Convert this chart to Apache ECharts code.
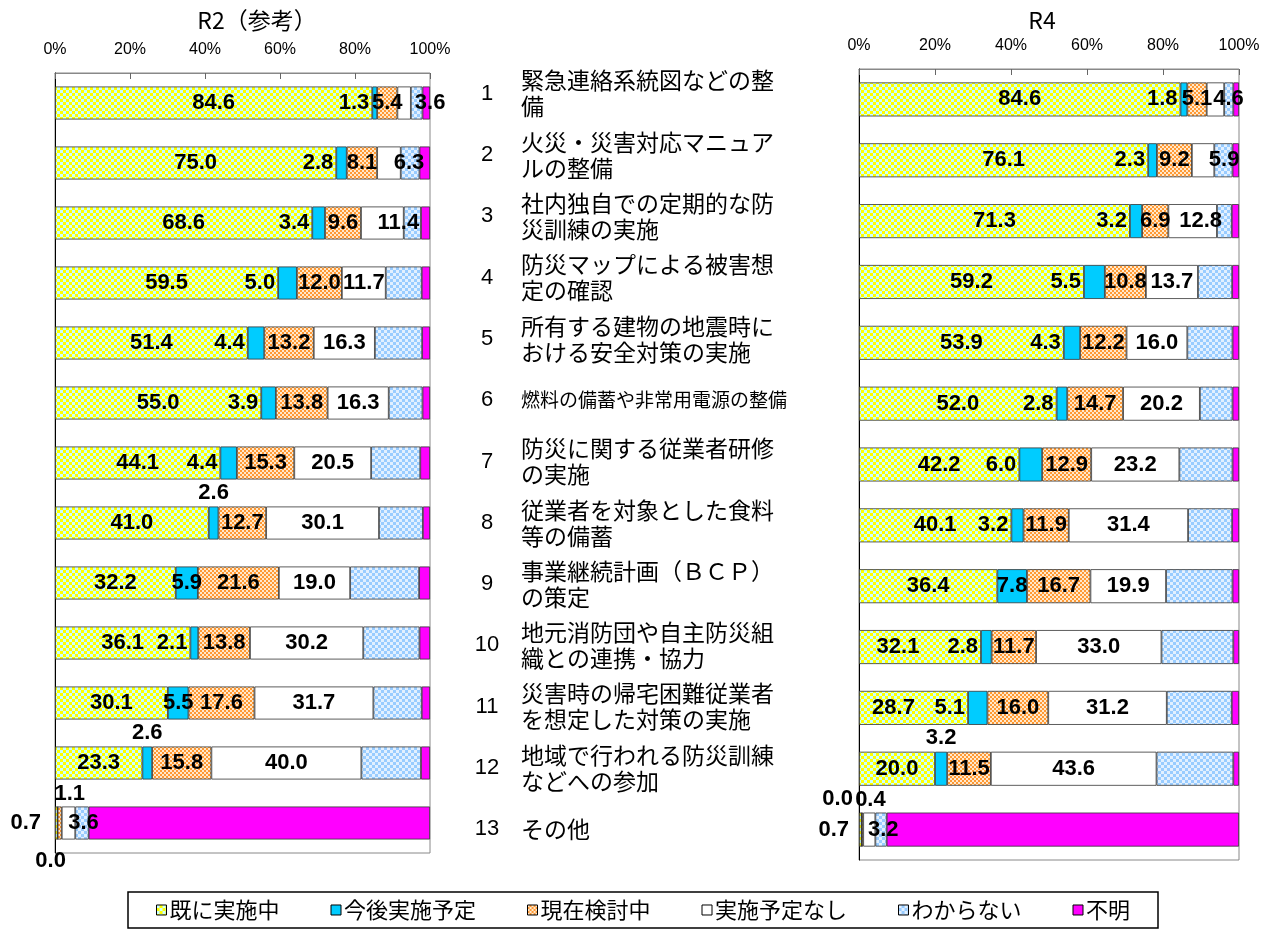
<!DOCTYPE html>
<html>
<head>
<meta charset="utf-8">
<script src="https://cdn.jsdelivr.net/npm/echarts@6/dist/echarts.min.js"></script>
<style>
  html, body { margin: 0; padding: 0; background: #fff; }
  #main { width: 1269px; height: 929px; }
</style>
</head>
<body>
<div id="main"></div>
<script>
// 項目
const items = [
  '緊急連絡系統図などの整備',
  '火災・災害対応マニュアルの整備',
  '社内独自での定期的な防災訓練の実施',
  '防災マップによる被害想定の確認',
  '所有する建物の地震時における安全対策の実施',
  '燃料の備蓄や非常用電源の整備',
  '防災に関する従業者研修の実施',
  '従業者を対象とした食料等の備蓄',
  '事業継続計画（ＢＣＰ）の策定',
  '地元消防団や自主防災組織との連携・協力',
  '災害時の帰宅困難従業者を想定した対策の実施',
  '地域で行われる防災訓練などへの参加',
  'その他'
]
const itemNos = ['1', '2', '3', '4', '5', '6', '7', '8', '9', '10', '11', '12', '13']
const legendNames = ['既に実施中', '今後実施予定', '現在検討中', '実施予定なし', 'わからない', '不明']
// 1行で小さい文字の項目
const compactItems = ['燃料の備蓄や非常用電源の整備']

// R2（参考）
const r2Done = [84.6, 75.0, 68.6, 59.5, 51.4, 55.0, 44.1, 41.0, 32.2, 36.1, 30.1, 23.3, 0.7]
const r2Plan = [1.3, 2.8, 3.4, 5.0, 4.4, 3.9, 4.4, 2.6, 5.9, 2.1, 5.5, 2.6, 0.0]
const r2Consider = [5.4, 8.1, 9.6, 12.0, 13.2, 13.8, 15.3, 12.7, 21.6, 13.8, 17.6, 15.8, 1.1]
const r2None = [3.6, 6.3, 11.4, 11.7, 16.3, 16.3, 20.5, 30.1, 19.0, 30.2, 31.7, 40.0, 3.6]
const r2Unknown = [3.1, 5.0, 4.6, 9.6, 12.6, 9.0, 13.1, 11.7, 18.4, 15.0, 12.9, 15.9, 3.6]
const r2Blank = [2.0, 2.8, 2.4, 2.2, 2.1, 2.0, 2.6, 1.9, 2.9, 2.8, 2.2, 2.4, 91.0]

// R4
const r4Done = [84.6, 76.1, 71.3, 59.2, 53.9, 52.0, 42.2, 40.1, 36.4, 32.1, 28.7, 20.0, 0.7]
const r4Plan = [1.8, 2.3, 3.2, 5.5, 4.3, 2.8, 6.0, 3.2, 7.8, 2.8, 5.1, 3.2, 0.0]
const r4Consider = [5.1, 9.2, 6.9, 10.8, 12.2, 14.7, 12.9, 11.9, 16.7, 11.7, 16.0, 11.5, 0.4]
const r4None = [4.6, 5.9, 12.8, 13.7, 16.0, 20.2, 23.2, 31.4, 19.9, 33.0, 31.2, 43.6, 3.2]
const r4Unknown = [2.4, 4.8, 3.9, 9.0, 11.9, 8.6, 14.0, 11.6, 17.5, 18.9, 17.1, 20.2, 3.0]
const r4Blank = [1.5, 1.7, 1.9, 1.8, 1.7, 1.7, 1.7, 1.8, 1.7, 1.5, 1.9, 1.5, 92.7]

// 市松模様の塗り
const checker = (c1, c2, cell) => {
  const cv = document.createElement('canvas')
  cv.width = cv.height = cell * 2
  const ctx = cv.getContext('2d')
  ctx.fillStyle = c1
  ctx.fillRect(0, 0, cell * 2, cell * 2)
  ctx.fillStyle = c2
  ctx.fillRect(0, 0, cell, cell)
  ctx.fillRect(cell, cell, cell, cell)
  return { image: cv, repeat: 'repeat' }
}
const fills = [
  checker('#FFFF00', '#CCFFFF', 3),
  '#00CCFF',
  checker('#FF9933', '#FFE8CC', 2),
  '#FFFFFF',
  checker('#99CCFF', '#E2F0FF', 3),
  '#FF00FF'
]
const basePos = ['inside', 'left', 'inside', 'inside', null, null]

// ラベル位置の個別調整（行番号は0始まり）
const labelTweaks = {
  r2: [
    { 12: { position: 'left', distance: 14 } },
    { 7: { position: 'top' }, 8: { position: 'inside' }, 10: { position: 'inside' }, 11: { position: 'top' },
      12: { position: 'bottom', distance: 10, offset: [-7, 0] } },
    { 12: { position: 'top', distance: 2, offset: [10, 0] } },
    { 0: { offset: [26, 0] }, 1: { offset: [20, 0] }, 2: { offset: [16, 0] }, 12: { offset: [15, 0] } }
  ],
  r4: [
    { 9: { offset: [-22, 0] }, 10: { offset: [-20, 0] }, 12: { position: 'left', distance: 10 } },
    { 8: { position: 'inside' }, 11: { position: 'top' }, 12: { position: 'top', distance: 2, offset: [-24, 0] } },
    { 12: { position: 'top', distance: 2, offset: [8, 0] } },
    { 0: { offset: [13, 0] }, 1: { offset: [21, 0] }, 2: { offset: [8, 0] }, 12: { offset: [14, 0] } }
  ]
}

const makeSeries = (key, gridIdx, groups) =>
  groups.map((vals, si) => ({
    name: legendNames[si],
    type: 'bar',
    stack: key,
    xAxisIndex: gridIdx,
    yAxisIndex: gridIdx,
    barWidth: gridIdx === 0 ? 33 : 34,
    itemStyle: { color: fills[si], borderColor: '#333', borderWidth: 0.8 },
    label: {
      show: si < 4,
      position: basePos[si] || 'inside',
      distance: 3,
      color: '#000',
      fontFamily: 'Liberation Sans',
      fontWeight: 'bold',
      fontSize: 22,
      formatter: (p) => Number(p.value).toFixed(1)
    },
    data: vals.map((v, i) => {
      const t = si < 4 ? labelTweaks[key][si][i] : null
      return t ? { value: v, label: t } : v
    })
  }))

const xAxisCommon = {
  type: 'value',
  min: 0,
  max: 100,
  interval: 20,
  position: 'top',
  axisLine: { show: true, lineStyle: { color: '#888' } },
  axisTick: { show: true, inside: true, length: 6, lineStyle: { color: '#666' } },
  splitLine: { show: false },
  axisLabel: { formatter: '{value}%', color: '#000', fontSize: 16, fontFamily: 'Liberation Sans', margin: 15 }
}
const yAxisBars = {
  type: 'category',
  inverse: true,
  data: itemNos,
  axisLine: { show: true, lineStyle: { color: '#000' } },
  axisTick: { show: false },
  axisLabel: { show: false }
}

const chart = echarts.init(document.getElementById('main'), null, { renderer: 'canvas' })
const titleStyle = { fontSize: 23, fontWeight: 'normal', color: '#000', fontFamily: 'Noto Sans CJK JP' }
const option = {
  animation: false,
  backgroundColor: '#fff',
  title: [
    { text: 'R2（参考）', left: 252, top: 4, textAlign: 'center', textStyle: titleStyle },
    { text: 'R4', left: 1037, top: 4, textAlign: 'center', textStyle: titleStyle }
  ],
  legend: {
    data: legendNames,
    bottom: 1,
    left: 128,
    padding: [7, 28, 7, 28],
    borderColor: '#000',
    borderWidth: 1.5,
    itemWidth: 10,
    itemHeight: 10,
    itemGap: 51,
    icon: 'rect',
    itemStyle: { borderColor: '#000', borderWidth: 1 },
    textStyle: { fontSize: 22, color: '#000', fontFamily: 'Noto Sans CJK JP', padding: [0, 0, 0, -2] }
  },
  grid: [
    { left: 55, right: 839, top: 73, bottom: 76, show: true, borderColor: '#888', borderWidth: 1 },
    { left: 859, right: 30, top: 69, bottom: 69, show: true, borderColor: '#888', borderWidth: 1 },
    { left: 521, width: 290, top: 63, height: 797 }
  ],
  xAxis: [
    Object.assign({ gridIndex: 0 }, xAxisCommon),
    Object.assign({ gridIndex: 1 }, xAxisCommon),
    { gridIndex: 2, type: 'value', show: false }
  ],
  yAxis: [
    Object.assign({ gridIndex: 0 }, yAxisBars),
    Object.assign({ gridIndex: 1 }, yAxisBars),
    {
      gridIndex: 2, type: 'category', inverse: true, data: itemNos, position: 'left', offset: 0,
      axisLine: { show: false }, axisTick: { show: false },
      axisLabel: { margin: 34, align: 'center', fontSize: 22, color: '#000', fontFamily: 'Liberation Sans' }
    },
    {
      gridIndex: 2, type: 'category', inverse: true, data: items, position: 'left', offset: 0,
      axisLine: { show: false }, axisTick: { show: false },
      axisLabel: {
        inside: true, margin: 0, fontSize: 23, lineHeight: 26, color: '#000',
        fontFamily: 'Noto Sans CJK JP', width: 271, overflow: 'break',
        formatter: (v) => (compactItems.includes(v) ? '{s|' + v + '}' : v),
        rich: { s: { fontSize: 19, fontFamily: 'Noto Sans CJK JP', color: '#000' } }
      }
    }
  ],
  series: [
    ...makeSeries('r2', 0, [r2Done, r2Plan, r2Consider, r2None, r2Unknown, r2Blank]),
    ...makeSeries('r4', 1, [r4Done, r4Plan, r4Consider, r4None, r4Unknown, r4Blank])
  ]
}
chart.setOption(option)
</script>
</body>
</html>
